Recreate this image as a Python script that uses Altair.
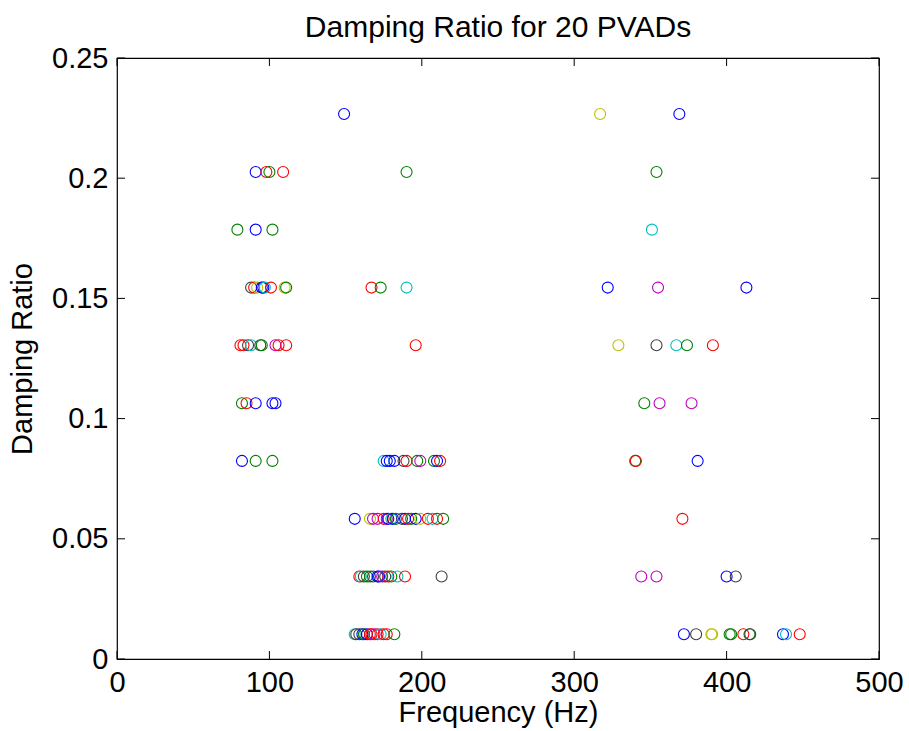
import altair as alt
import pandas as pd

# Damping ratio levels (y values of the 10 rows)
levels = [0.0103, 0.0343, 0.0583, 0.0824, 0.1064, 0.1305, 0.1545, 0.1786, 0.2026, 0.2267]

# Frequencies (Hz) and series colour codes for each level
row0_f = [156, 157, 159, 161, 162, 164, 166, 167, 169, 171, 173, 175, 177, 182, 372, 380, 390, 390.5, 402, 403, 411, 415, 415.5, 437, 439, 448]
row0_c = ["c", "k", "k", "b", "g", "b", "r", "r", "m", "r", "c", "r", "r", "g", "b", "k", "y", "y", "g", "g", "r", "g", "k", "b", "c", "r"]
row1_f = [159, 160, 162, 164, 166, 168, 171, 172, 174, 176, 178, 180, 184, 189, 213, 344, 354, 400, 406]
row1_c = ["r", "c", "k", "g", "g", "k", "b", "b", "m", "k", "r", "g", "c", "r", "k", "m", "m", "b", "k"]
row2_f = [156, 166, 168, 171, 175, 177, 178, 180, 181, 183, 187, 189, 191, 193, 196, 199, 204, 207, 210, 214, 371]
row2_c = ["b", "y", "m", "m", "r", "m", "b", "c", "b", "g", "k", "b", "r", "g", "b", "y", "r", "c", "r", "g", "r"]
row3_f = [82, 91, 102, 175, 177, 179, 182, 188, 190, 197, 199, 208, 210, 212, 340, 340.5, 381]
row3_c = ["b", "g", "g", "c", "b", "b", "b", "k", "r", "g", "m", "g", "b", "r", "g", "r", "b"]
row4_f = [82, 85, 91, 102, 104, 346, 356, 377]
row4_c = ["g", "r", "b", "b", "b", "g", "m", "m"]
row5_f = [81, 83, 86, 88, 94, 95, 104, 106, 111, 196, 329, 354, 367, 374, 391]
row5_c = ["r", "r", "k", "c", "k", "g", "m", "r", "r", "r", "y", "k", "c", "g", "r"]
row6_f = [88, 90, 92, 95, 96, 97, 101, 110, 111, 167, 173, 190, 322, 355, 413]
row6_c = ["k", "r", "y", "b", "b", "c", "r", "y", "g", "r", "g", "c", "b", "m", "b"]
row7_f = [79, 91, 102, 351]
row7_c = ["g", "b", "g", "c"]
row8_f = [91, 98, 100, 109, 190, 354]
row8_c = ["b", "r", "g", "r", "g", "g"]
row9_f = [149, 317, 369]
row9_c = ["b", "y", "b"]

rows_f = [row0_f, row1_f, row2_f, row3_f, row4_f, row5_f, row6_f, row7_f, row8_f, row9_f]
rows_c = [row0_c, row1_c, row2_c, row3_c, row4_c, row5_c, row6_c, row7_c, row8_c, row9_c]

color_codes = ["b", "g", "r", "c", "m", "y", "k"]
color_values = ["#0000FF", "#008000", "#FF0000", "#00BFBF", "#BF00BF", "#BFBF00", "#404040"]

x_ticks = [0, 100, 200, 300, 400, 500]
y_ticks = [0, 0.05, 0.1, 0.15, 0.2, 0.25]

recs = []
for lv, fs, cs in zip(levels, rows_f, rows_c):
    for f, c in zip(fs, cs):
        recs.append({"freq": f, "ratio": lv, "col": c})
df = pd.DataFrame(recs)

W, H = 762, 601
FONT = "Liberation Sans"
TL = 8

xs = alt.Scale(domain=[0, 500], nice=False, zero=False)
ys = alt.Scale(domain=[0, 0.25], nice=False, zero=False)

x_axis = alt.Axis(values=x_ticks, format="d", ticks=False, domain=False, grid=False,
                  labelFlush=False, labelPadding=9, titlePadding=1, labelFont=FONT, titleFont=FONT,
                  labelFontSize=29, titleFontSize=29, labelColor="black",
                  titleColor="black", titleFontWeight="normal")
y_axis = alt.Axis(values=y_ticks, format="~g", ticks=False, domain=False, grid=False,
                  labelFlush=False, labelPadding=9, titlePadding=14, labelFont=FONT, titleFont=FONT,
                  labelFontSize=29, titleFontSize=29, labelColor="black",
                  titleColor="black", titleFontWeight="normal")
XT = "Frequency (Hz)"
YT = "Damping Ratio"

points = alt.Chart(df).mark_point(shape="circle", filled=False, size=121, strokeWidth=1.1, opacity=1).encode(
    x=alt.X("freq:Q", scale=xs, title=XT, axis=x_axis),
    y=alt.Y("ratio:Q", scale=ys, title=YT, axis=y_axis),
    color=alt.Color("col:N", scale=alt.Scale(domain=color_codes, range=color_values), legend=None),
)

xt = pd.DataFrame({"v": x_ticks})
yt = pd.DataFrame({"v": y_ticks})

tb = alt.Chart(xt).mark_rule(color="black", strokeWidth=1).encode(
    x=alt.X("v:Q", scale=xs, title=XT, axis=x_axis), y=alt.value(H), y2=alt.value(H - TL))
tt = alt.Chart(xt).mark_rule(color="black", strokeWidth=1).encode(
    x=alt.X("v:Q", scale=xs, title=XT, axis=x_axis), y=alt.value(0), y2=alt.value(TL))
tl = alt.Chart(yt).mark_rule(color="black", strokeWidth=1).encode(
    y=alt.Y("v:Q", scale=ys, title=YT, axis=y_axis), x=alt.value(0), x2=alt.value(TL))
tr = alt.Chart(yt).mark_rule(color="black", strokeWidth=1).encode(
    y=alt.Y("v:Q", scale=ys, title=YT, axis=y_axis), x=alt.value(W - TL), x2=alt.value(W))

chart = alt.layer(points, tb, tt, tl, tr).properties(
    width=W, height=H,
    background="white",
    title=alt.TitleParams("Damping Ratio for 20 PVADs", fontSize=30, font=FONT,
                          fontWeight="normal", color="black", offset=1, anchor="middle"),
    autosize=alt.AutoSizeParams(type="none"),
    padding={"left": 117, "top": 58, "right": 30, "bottom": 72},
).configure_view(stroke="black", strokeWidth=1.2)

chart.save("out.html", embed_options={"renderer": "svg", "actions": False})
